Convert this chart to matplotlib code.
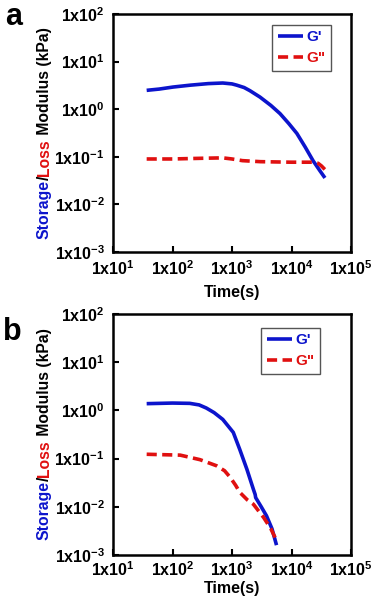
import matplotlib
matplotlib.use("Agg")
import matplotlib.pyplot as plt
from matplotlib.transforms import IdentityTransform

plt.rcParams['font.family'] = ['Liberation Sans', 'DejaVu Sans']
plt.rcParams['font.weight'] = 'bold'
plt.rcParams['mathtext.fontset'] = 'custom'
plt.rcParams['mathtext.rm'] = 'Liberation Sans:bold'
plt.rcParams['mathtext.it'] = 'Liberation Sans:bold'
plt.rcParams['mathtext.bf'] = 'Liberation Sans:bold'

# ---- data (panel a) ----
a_gp_t = [36.8, 60, 102, 200, 400, 700, 1000, 1200, 1600, 2000, 2950, 4500, 6400, 9000, 12300, 17000, 23000, 30000, 36500]
a_gp_v = [2.49, 2.65, 2.92, 3.2, 3.45, 3.55, 3.4, 3.2, 2.85, 2.45, 1.8, 1.2, 0.81, 0.5, 0.31, 0.16, 0.083, 0.051, 0.036]
a_gpp_t = [36.8, 100, 300, 700, 1000, 1500, 3000, 10000, 23000, 28000, 32000, 36500]
a_gpp_v = [0.090, 0.090, 0.093, 0.095, 0.090, 0.083, 0.079, 0.077, 0.077, 0.073, 0.064, 0.054]

# ---- data (panel b) ----
b_gp_t = [36.8, 100, 195, 280, 370, 500, 700, 1050, 1350, 1780, 2290, 2450, 2500, 3100, 3800, 4700, 5600]
b_gp_v = [1.38, 1.42, 1.40, 1.30, 1.12, 0.90, 0.65, 0.35, 0.155, 0.060, 0.023, 0.018, 0.0155, 0.0100, 0.0065, 0.0035, 0.0016]
b_gpp_t = [36.8, 135, 290, 550, 750, 930, 1150, 1350, 1800, 2290, 3400, 4500, 5600]
b_gpp_v = [0.123, 0.118, 0.095, 0.071, 0.056, 0.041, 0.028, 0.020, 0.014, 0.0113, 0.006, 0.0035, 0.0020]

xticks = [1e1, 1e2, 1e3, 1e4, 1e5]
xtick_labels = [r'$\mathregular{1x10^{1}}$', r'$\mathregular{1x10^{2}}$', r'$\mathregular{1x10^{3}}$',
                r'$\mathregular{1x10^{4}}$', r'$\mathregular{1x10^{5}}$']
yticks = [1e-3, 1e-2, 1e-1, 1e0, 1e1, 1e2]
ytick_labels = [r'$\mathregular{1x10^{-3}}$', r'$\mathregular{1x10^{-2}}$', r'$\mathregular{1x10^{-1}}$',
                r'$\mathregular{1x10^{0}}$', r'$\mathregular{1x10^{1}}$', r'$\mathregular{1x10^{2}}$']
legend_labels = ["G'", 'G"']

BLUE = '#0c14cc'
RED = '#e01010'

fig = plt.figure(figsize=(3.72, 6.0), dpi=100)
ax_a = fig.add_axes([113/372, 1-252/600, 238/372, 238/600])
ax_b = fig.add_axes([113/372, 1-555/600, 238/372, 241/600])

panels = [(ax_a, a_gp_t, a_gp_v, a_gpp_t, a_gpp_v, (277, 25, 54, 40), 5, 5),
          (ax_b, b_gp_t, b_gp_v, b_gpp_t, b_gpp_v, (258, 328, 62, 47), 4, 1)]

for ax, gt, gv, ppt, ppv, lbox, xpad, lpad in panels:
    l1, = ax.plot(gt, gv, color=BLUE, lw=2.6, solid_capstyle='butt', solid_joinstyle='round')
    l2, = ax.plot(ppt, ppv, color=RED, lw=2.6, linestyle=(0, (2.8, 1.5)))
    ax.set_xscale('log')
    ax.set_yscale('log')
    ax.set_xlim(1e1, 1e5)
    ax.set_ylim(1e-3, 1e2)
    ax.set_xticks(xticks)
    ax.set_xticklabels(xtick_labels)
    ax.set_yticks(yticks)
    ax.set_yticklabels(ytick_labels)
    ax.minorticks_off()
    ax.tick_params(direction='in', length=4, width=1.5, labelsize=11.5)
    ax.tick_params(axis='x', pad=xpad)
    ax.tick_params(axis='y', pad=6)
    for s in ax.spines.values():
        s.set_linewidth(1.8)
    ax.set_xlabel('Time(s)', fontsize=11.5, fontweight='bold', labelpad=lpad)
    lx, ly, lw_, lh = lbox
    leg = ax.legend([l1, l2], legend_labels, loc='upper right',
                    bbox_to_anchor=((lx + lw_) / 372, 1 - ly / 600), bbox_transform=fig.transFigure,
                    prop={'weight': 'bold', 'size': 11}, handlelength=1.7, handletextpad=0.2,
                    borderpad=0.35, labelspacing=0.45, fancybox=False, framealpha=1,
                    edgecolor='#555555', borderaxespad=0)
    leg.get_frame().set_linewidth(1.0)
    for t, c in zip(leg.get_texts(), [BLUE, RED]):
        t.set_color(c)

fig.text(5/372, 1 - 2/600, 'a', fontsize=22, fontweight='bold', va='top', ha='left')
fig.text(3/372, 1 - 317/600, 'b', fontsize=22, fontweight='bold', va='top', ha='left')

# multicolour y labels
fig.canvas.draw()
renderer = fig.canvas.get_renderer()
pieces = [('Storage', BLUE), ('/', 'black'), ('Loss', RED), (' Modulus (kPa)', 'black')]
full = ''.join(p for p, _ in pieces)
YL_SIZE = 11.3

def measure(s):
    t = fig.text(0, 0, s, fontsize=YL_SIZE, fontweight='bold')
    w = t.get_window_extent(renderer).width
    t.remove()
    return w

total = measure(full)
for ax, cx in [(ax_a, 44), (ax_b, 44)]:
    bb = ax.get_window_extent(renderer)
    cy = (bb.y0 + bb.y1) / 2
    y0 = cy - total / 2
    prefix = ''
    for s, c in pieces:
        off = measure(prefix) if prefix else 0.0
        fig.text(cx, y0 + off, s, fontsize=YL_SIZE, fontweight='bold', color=c,
                 rotation=90, rotation_mode='anchor', ha='left', va='center',
                 transform=IdentityTransform())
        prefix += s

fig.savefig('out.png', dpi=100)
